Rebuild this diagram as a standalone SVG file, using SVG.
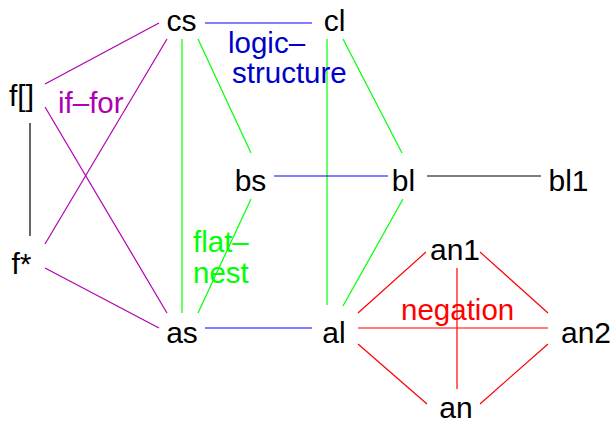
<svg xmlns="http://www.w3.org/2000/svg" width="614" height="423" viewBox="0 0 614 423">
<style>
.n{font-family:"Liberation Sans",Arial,Helvetica,sans-serif;font-size:30px;fill:#000;text-anchor:middle}
.l{font-family:"Liberation Sans",Arial,Helvetica,sans-serif;font-size:29.5px}
.e line{stroke-width:1.2;fill:none}
.p{stroke:#b000b0}.g{stroke:#00ff00}.b{stroke:#0000ff}.r{stroke:#ff0000}.k{stroke:#000}
</style>
<rect width="614" height="423" fill="#fff"/>
<g id="connectors" class="e">
<line class="b" x1="205" y1="23" x2="312" y2="23"/>
<line class="p" x1="159" y1="23" x2="45" y2="84"/>
<line class="p" x1="167" y1="39" x2="45" y2="244"/>
<line class="p" x1="45" y1="107" x2="167" y2="313"/>
<line class="p" x1="45" y1="268" x2="159" y2="328"/>
<line class="k" x1="30" y1="123" x2="30" y2="236"/>
<line class="g" x1="182" y1="39" x2="182" y2="313"/>
<line class="g" x1="198" y1="39" x2="251" y2="153"/>
<line class="g" x1="251" y1="199" x2="198" y2="313"/>
<line class="g" x1="327" y1="39" x2="327" y2="305"/>
<line class="g" x1="343" y1="39" x2="402" y2="153"/>
<line class="g" x1="403" y1="199" x2="343" y2="306"/>
<line class="b" x1="274" y1="176" x2="388" y2="176"/>
<line class="k" x1="427" y1="176" x2="541" y2="176"/>
<line class="b" x1="205" y1="328" x2="312" y2="328"/>
<line class="r" x1="358" y1="313" x2="426" y2="252"/>
<line class="r" x1="480" y1="252" x2="548" y2="313"/>
<line class="r" x1="358" y1="328" x2="548" y2="328"/>
<line class="r" x1="457" y1="268" x2="457" y2="389"/>
<line class="r" x1="358" y1="344" x2="427" y2="404"/>
<line class="r" x1="548" y1="344" x2="480" y2="404"/>
</g>
<g id="labels">
<text class="l" x="228" y="53" fill="#0000cc">logic–</text>
<text class="l" x="232" y="83" fill="#0000cc">structure</text>
<text class="l" x="58" y="113" fill="#b000b0">if–for</text>
<text class="l" x="193" y="252" fill="#00ff00">flat–</text>
<text class="l" x="193" y="283" fill="#00ff00">nest</text>
<text class="l" x="401" y="320" fill="#ff0000">negation</text>
</g>
<g id="cs"><text class="n" x="181.5" y="31">cs</text></g>
<g id="cl"><text class="n" x="334.5" y="31">cl</text></g>
<g id="farr"><text class="n" x="21.5" y="106">f[]</text></g>
<g id="fstar"><text class="n" x="21.5" y="274">f*</text></g>
<g id="bs"><text class="n" x="250.5" y="191">bs</text></g>
<g id="bl"><text class="n" x="403.5" y="191">bl</text></g>
<g id="bl1"><text class="n" x="568.5" y="191">bl1</text></g>
<g id="as"><text class="n" x="182" y="343">as</text></g>
<g id="al"><text class="n" x="334" y="343">al</text></g>
<g id="an1"><text class="n" x="455" y="260">an1</text></g>
<g id="an2"><text class="n" x="586" y="343">an2</text></g>
<g id="an"><text class="n" x="456" y="418">an</text></g>
</svg>
